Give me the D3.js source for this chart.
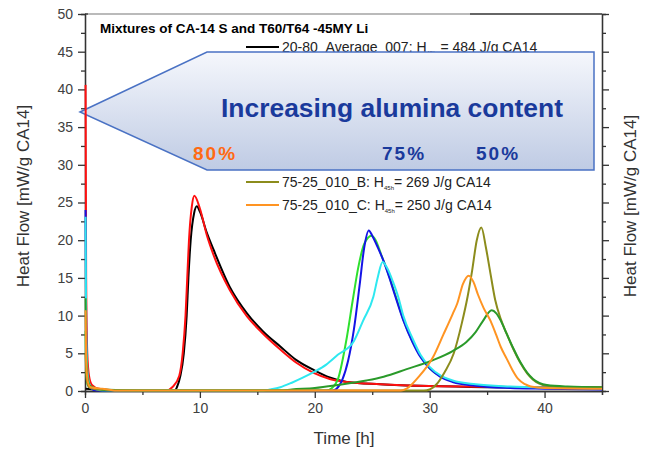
<!DOCTYPE html>
<html>
<head>
<meta charset="utf-8">
<script src="https://cdn.jsdelivr.net/npm/d3@7"></script>
<style>
    body { margin: 0; background: #fff; }
    svg { font-family: Arial, "Liberation Sans", sans-serif; }
    .axis path, .axis line { stroke: #333; stroke-width: 1.3; }
    .axis text { font-size: 14px; fill: #404040; }
</style>
</head>
<body>
<div id="vis"></div>
<script>

// data: [time h, heat flow mW/g]
const black = [[0.05,0.3],[3,0.05],[7.8,0.05],[8.0,0.5],[8.3,2],[8.6,5],[8.85,10],[9.0,15],[9.2,20],[9.5,23.6],[9.73,24.5],[10.0,23.8],[10.6,21],[11.2,18.7],[12.6,13.8],[14.1,10.3],[15.5,7.9],[17,5.9],[18.4,4.1],[19.9,2.8],[21.3,1.8],[22.8,1.2],[25.7,0.9],[30,0.65],[35,0.5],[40,0.45],[45,0.4]];
const red = [[0.05,40.6],[0.1,15],[0.2,5],[0.35,2],[0.6,0.8],[1.2,0.3],[3,0.08],[7.1,0.08],[7.6,0.5],[8.2,2],[8.5,5],[8.75,10],[8.9,15],[9.05,20],[9.3,24.5],[9.52,25.9],[10.0,24.2],[10.6,20.7],[11.2,18.0],[12.6,13.4],[14.1,9.9],[15.5,7.6],[17,5.5],[18.4,3.75],[19.9,2.4],[21.3,1.6],[22.8,1.2],[25.7,0.9],[30,0.65],[35,0.55],[40,0.5],[45,0.5]];
const lime = [[0.05,8],[0.1,3],[0.25,0.8],[0.6,0.3],[2,0.05],[21.0,0.05],[21.5,0.4],[22,1.5],[22.8,7.2],[23.3,12],[23.8,16.5],[24.3,19.5],[24.95,20.6],[25.3,20],[25.8,18],[26.3,16],[27,12.8],[27.7,9.5],[28.5,6.6],[29.2,4.6],[30,3.0],[31,1.9],[32,1.3],[34,0.8],[37,0.5],[40,0.4],[45,0.3]];
const blue = [[0.05,24],[0.1,8],[0.2,2],[0.4,0.5],[1,0.08],[5,0.03],[21.5,0.03],[21.9,0.3],[22.4,1.5],[22.9,4],[23.4,8.1],[23.9,14],[24.3,19],[24.7,21.3],[25.0,20.6],[25.5,19],[26.0,17.2],[26.5,15],[27,12.6],[27.7,9.4],[28.5,6.5],[29.2,4.5],[30,3.0],[30.9,1.9],[32,1.2],[34,0.7],[37,0.4],[40,0.3],[45,0.2]];
const cyan = [[0.05,23.1],[0.1,8],[0.25,2],[0.5,0.6],[1.5,0.1],[15.5,0.05],[16.1,0.2],[17,0.5],[18,1.1],[19,1.8],[19.9,2.5],[21,3.5],[22,4.8],[23.4,6.6],[24.2,9.3],[25.1,12.5],[25.5,15.2],[25.9,17.1],[26.3,16.3],[26.8,14.5],[27.3,12.3],[27.7,10],[28.5,7],[29.2,4.8],[30,3.2],[31,2.0],[32,1.4],[34,0.9],[37,0.6],[40,0.45],[45,0.35]];
const olive = [[0.05,5],[0.15,1.5],[0.35,0.5],[1,0.2],[3,0.05],[29.5,0.05],[30.0,0.2],[30.6,0.9],[31.3,2.5],[32.1,5.0],[32.8,9],[33.3,12.5],[33.7,16],[34.1,20],[34.5,21.7],[34.9,19],[35.3,15.5],[35.7,12.1],[36.2,9.5],[36.7,7.6],[37.3,5.5],[37.9,3.7],[38.5,2.3],[39.0,1.5],[40.2,0.7],[42,0.5],[45,0.45]];
const darkGreen = [[0.05,12.3],[0.1,5],[0.25,1.5],[0.5,0.6],[1.5,0.2],[5,0.05],[17,0.05],[18,0.2],[20,0.4],[22,0.8],[24.5,1.4],[26,1.9],[28,2.9],[30.3,4.1],[32,5.3],[33.2,6.5],[34,7.8],[34.6,9.2],[35.4,10.7],[35.8,10.3],[36.2,9.3],[36.7,7.6],[37.3,5.6],[37.9,3.8],[38.5,2.4],[39,1.6],[40.2,0.8],[42,0.6],[45,0.5]];
const orange = [[0.05,10.7],[0.1,4],[0.25,1.2],[0.5,0.5],[1.5,0.3],[3,0.05],[27.5,0.05],[28,0.3],[29,1.8],[30.3,4.5],[31.2,7.5],[32.0,10.2],[32.4,11.6],[32.9,14.2],[33.4,15.3],[33.8,14.5],[34.2,12.8],[34.7,11],[35.3,9.3],[35.8,7.4],[36.2,5.8],[36.7,4.3],[37.2,2.8],[37.7,1.6],[38.3,0.9],[38.8,0.6],[40,0.4],[45,0.3]];

const seriesNames = ['black', 'red', 'lime', 'blue', 'cyan', 'olive', 'darkGreen', 'orange'];
const seriesData = [black, red, lime, blue, cyan, olive, darkGreen, orange];

const xTicks = [0, 10, 20, 30, 40];
const xMinor = [5, 15, 25, 35, 45];
const yTicks = [0, 5, 10, 15, 20, 25, 30, 35, 40, 45, 50];
const yMinor = [2.5, 7.5, 12.5, 17.5, 22.5, 27.5, 32.5, 37.5, 42.5, 47.5];

const legendLabels = [
    {name: 'black', pre: '20-80_Average_007: H', sub: '45h', post: ' = 484 J/g CA14'},
    {name: 'olive', pre: '75-25_010_B: H', sub: '45h', post: '= 269 J/g CA14'},
    {name: 'orange', pre: '75-25_010_C: H', sub: '45h', post: '= 250 J/g CA14'}
];
const percentLabels = [
    {t: '80%', x: 193, c: '#ff6a13'},
    {t: '75%', x: 382, c: '#1a3a9c'},
    {t: '50%', x: 476, c: '#1a3a9c'}
];

function colorOf(name) {
    switch (name) {
        case 'black': return '#000000';
        case 'red': return '#ff1010';
        case 'lime': return '#2ee02e';
        case 'blue': return '#1414e6';
        case 'cyan': return '#2ee8f0';
        case 'olive': return '#8c8c1c';
        case 'darkGreen': return '#2a9a2a';
        case 'orange': return '#ff9422';
    }
}

let width = 653, height = 450;

let svg = d3.select('#vis')
    .append('svg')
    .attr('width', width)
    .attr('height', height);

let xScale = d3.scaleLinear().domain([0, 45]).range([85, 602]);
let yScale = d3.scaleLinear().domain([0, 50]).range([391, 14]);

// gradient for the arrow
let grad = svg.append('defs').append('linearGradient')
    .attr('id', 'arrowGrad')
    .attr('x1', 0).attr('y1', 0).attr('x2', 0).attr('y2', 1);
grad.append('stop').attr('offset', '0%').attr('stop-color', '#f5f7fc');
grad.append('stop').attr('offset', '100%').attr('stop-color', '#bfcbe4');

svg.append('clipPath').attr('id', 'plotClip')
    .append('rect')
    .attr('x', 84).attr('y', 14)
    .attr('width', 518).attr('height', 378);

// Axes
svg.append('g').attr('class', 'axis')
    .attr('transform', 'translate(85,0)')
    .call(d3.axisLeft(yScale).tickValues(yTicks).tickSize(7).tickSizeOuter(0).tickPadding(5));
svg.append('g').attr('class', 'axis')
    .attr('transform', 'translate(85,0)')
    .call(d3.axisLeft(yScale).tickValues(yMinor).tickSize(4).tickFormat(''));

svg.append('g').attr('class', 'axis')
    .attr('transform', 'translate(602,0)')
    .call(d3.axisRight(yScale).tickValues(yTicks).tickSize(7).tickSizeOuter(0).tickFormat(''));
svg.append('g').attr('class', 'axis')
    .attr('transform', 'translate(602,0)')
    .call(d3.axisRight(yScale).tickValues(yMinor).tickSize(4).tickFormat(''));

svg.append('g').attr('class', 'axis')
    .attr('transform', 'translate(0,391)')
    .call(d3.axisBottom(xScale).tickValues(xTicks).tickSize(7).tickSizeOuter(0).tickPadding(5));
svg.append('g').attr('class', 'axis')
    .attr('transform', 'translate(0,391)')
    .call(d3.axisBottom(xScale).tickValues(xMinor).tickSize(4).tickFormat(''));

// top frame
svg.append('line')
    .attr('x1', xScale(0)).attr('x2', xScale(45))
    .attr('y1', yScale(50)).attr('y2', yScale(50))
    .attr('stroke', '#333').attr('stroke-width', 1.3);

// legend box (slightly covers the frame)
svg.append('rect')
    .attr('x', 88).attr('y', 11).attr('width', 382).attr('height', 6)
    .attr('fill', '#fff').attr('opacity', 0.55);

svg.append('text')
    .attr('x', 100).attr('y', 33)
    .attr('font-size', '13.5px').attr('font-weight', 'bold')
    .text('Mixtures of CA-14 S and T60/T64 -45MY Li');

let legendY = [47, 182, 205];
legendLabels.forEach(function (d, i) {
    svg.append('line')
        .attr('x1', 246).attr('x2', 279)
        .attr('y1', legendY[i]).attr('y2', legendY[i])
        .attr('stroke', colorOf(d.name)).attr('stroke-width', 2);
    let t = svg.append('text')
        .attr('x', 282).attr('y', legendY[i] + 5)
        .attr('font-size', '14px').attr('fill', '#222');
    t.append('tspan').text(d.pre);
    t.append('tspan').attr('font-size', '6px').attr('dy', 3).text(d.sub);
    t.append('tspan').attr('dy', -3).text(d.post);
});

// Arrow
svg.append('polygon')
    .attr('points', '80,112 207,52 594,52 594,170 207,170')
    .attr('fill', 'url(#arrowGrad)')
    .attr('stroke', '#4a72c4')
    .attr('stroke-width', 1.5);

svg.append('text')
    .attr('x', 221).attr('y', 117)
    .attr('font-size', '25px').attr('font-weight', 'bold')
    .attr('fill', '#1a3a9c')
    .attr('textLength', 342).attr('lengthAdjust', 'spacingAndGlyphs')
    .text('Increasing alumina content');

svg.selectAll('text.pct')
    .data(percentLabels)
    .enter()
    .append('text')
    .attr('class', 'pct')
    .attr('x', d => d.x).attr('y', 160)
    .attr('font-size', '19px').attr('font-weight', 'bold')
    .attr('letter-spacing', '2px')
    .attr('fill', d => d.c)
    .text(d => d.t);

// Curves
let line = d3.line()
    .x(d => xScale(d[0]))
    .y(d => yScale(d[1]))
    .curve(d3.curveMonotoneX);

svg.append('g')
    .attr('clip-path', 'url(#plotClip)')
    .selectAll('path')
    .data(seriesData)
    .enter()
    .append('path')
    .attr('d', line)
    .attr('fill', 'none')
    .attr('stroke', (d, i) => colorOf(seriesNames[i]))
    .attr('stroke-width', 2);

// axis titles
svg.append('text')
    .attr('transform', 'translate(23,196) rotate(-90)')
    .attr('text-anchor', 'middle').attr('dy', '0.35em')
    .attr('font-size', '17px').attr('fill', '#333')
    .text('Heat Flow [mW/g CA14]');

svg.append('text')
    .attr('transform', 'translate(630,206) rotate(-90)')
    .attr('text-anchor', 'middle').attr('dy', '0.35em')
    .attr('font-size', '17px').attr('fill', '#333')
    .text('Heat Flow [mW/g CA14]');

svg.append('text')
    .attr('x', 344).attr('y', 444)
    .attr('text-anchor', 'middle')
    .attr('font-size', '17px').attr('fill', '#333')
    .text('Time [h]');

</script>
</body>
</html>
